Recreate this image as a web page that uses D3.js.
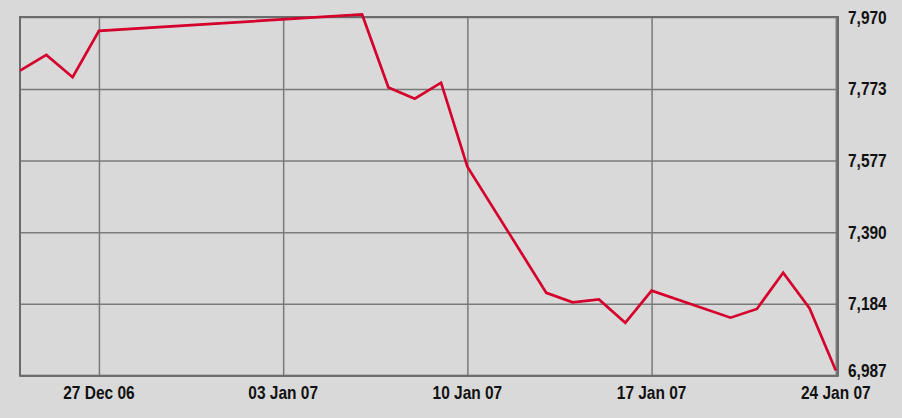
<!DOCTYPE html>
<html>
<head>
<meta charset="utf-8">
<script src="https://d3js.org/d3.v7.min.js"></script>
<style>
  body { margin: 0; background: #d9d9d9; }
  svg { display: block; }
  .lbl { font-family: "Liberation Sans", Arial, sans-serif;
         font-weight: bold; font-size: 18px; fill: #111; }
  .grid line { stroke: #7a7a7a; stroke-width: 1.5px; }
  .grid path { display: none; }
  .line { fill: none; stroke: #d5002b; stroke-width: 2.7px; stroke-linejoin: miter; }
</style>
</head>
<body>
<div id="chart"></div>
<script>

// trading days (Sat-Wed), index close
var dates = ["2006-12-24","2006-12-25","2006-12-26","2006-12-27",
             "2007-01-06","2007-01-07","2007-01-08","2007-01-09","2007-01-10",
             "2007-01-13","2007-01-14","2007-01-15","2007-01-16","2007-01-17",
             "2007-01-20","2007-01-21","2007-01-22","2007-01-23","2007-01-24"];
var values = [7823, 7866, 7805, 7932,
              7977, 7777, 7746, 7790, 7560,
              7214, 7188, 7196, 7132, 7220,
              7146, 7170, 7269, 7172, 7001];

var xTickDates = ["2006-12-27","2007-01-03","2007-01-10","2007-01-17","2007-01-24"];
var xTickLabels = ["27 Dec 06","03 Jan 07","10 Jan 07","17 Jan 07","24 Jan 07"];
var yTickValues = [6987, 7184, 7380, 7577, 7773, 7970];
var yTickLabels = ["6,987","7,184","7,390","7,577","7,773","7,970"];

var W = 902, H = 418;
var m = {left: 20, right: 838, top: 17, bottom: 375.7};
var squeeze = 0.86; // condensed look for the labels

var parse = d3.timeParse("%Y-%m-%d");
var data = dates.map(function(d, i) { return {date: parse(d), value: values[i]}; });

var x = d3.scaleTime()
    .domain([parse("2006-12-24"), new Date(2007, 0, 24, 2)])
    .range([m.left, m.right]);
var y = d3.scaleLinear()
    .domain([6987, 7970])
    .range([m.bottom, m.top]);

var svg = d3.select("#chart").append("svg")
    .attr("width", W)
    .attr("height", H);

// horizontal grid
svg.append("g")
    .attr("class", "grid")
    .attr("transform", "translate(" + m.left + ",0)")
    .call(d3.axisRight(y).tickValues(yTickValues).tickSize(m.right - m.left).tickFormat(""));

// vertical grid
svg.append("g")
    .attr("class", "grid")
    .attr("transform", "translate(0," + m.top + ")")
    .call(d3.axisBottom(x).tickValues(xTickDates.map(parse)).tickSize(m.bottom - m.top).tickFormat(""));

// frame
svg.append("rect")
    .attr("x", m.left)
    .attr("y", m.top)
    .attr("width", m.right - m.left)
    .attr("height", m.bottom - m.top)
    .attr("fill", "none")
    .attr("stroke", "#6b6b6b")
    .attr("stroke-width", 2);

// y labels (lowest one sits on the frame, not centred)
svg.append("g")
  .selectAll("text")
  .data(yTickValues)
  .enter()
  .append("text")
    .attr("class", "lbl")
    .attr("transform", function(d) {
      var ty = Math.min(y(d) + 6.5, m.bottom + 1);
      return "translate(" + (m.right + 10) + "," + ty + ") scale(" + squeeze + ",1)";
    })
    .text(function(d, i) { return yTickLabels[i]; });

// x labels
svg.append("g")
  .selectAll("text")
  .data(xTickDates)
  .enter()
  .append("text")
    .attr("class", "lbl")
    .attr("text-anchor", "middle")
    .attr("transform", function(d) {
      return "translate(" + x(parse(d)) + ",399) scale(" + squeeze + ",1)";
    })
    .text(function(d, i) { return xTickLabels[i]; });

var line = d3.line()
    .x(function(d) { return x(d.date); })
    .y(function(d) { return y(d.value); });

svg.append("path")
    .datum(data)
    .attr("class", "line")
    .attr("d", line);

</script>
</body>
</html>
